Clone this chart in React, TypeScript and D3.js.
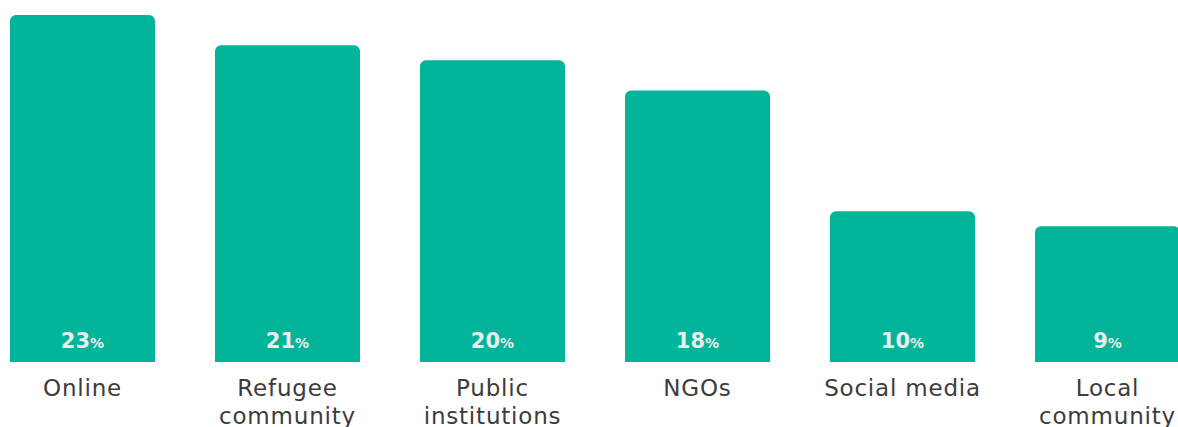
import React from "react";
import * as d3 from "d3";

const categories = ["Online", "Refugee community", "Public institutions", "NGOs", "Social media", "Local community"];
const labelLines = [["Online"], ["Refugee", "community"], ["Public", "institutions"], ["NGOs"], ["Social media"], ["Local", "community"]];
const values = [23, 21, 20, 18, 10, 9];

const W = 1178;
const H = 427;
const FONT = "'DejaVu Sans', sans-serif";

function topRoundedRect(x: number, y: number, w: number, h: number, r: number) {
  const p = d3.path();
  p.moveTo(x, y + h);
  p.lineTo(x, y + r);
  p.arcTo(x, y, x + r, y, r);
  p.lineTo(x + w - r, y);
  p.arcTo(x + w, y, x + w, y + r, r);
  p.lineTo(x + w, y + h);
  p.closePath();
  return p.toString();
}

export default function App() {
  const x = d3.scaleBand<string>().domain(categories).range([10, 1180]).paddingInner(60 / 205).paddingOuter(0);
  const y = d3.scaleLinear().domain([0, 23]).range([362, 15]);
  return (
    <svg width={W} height={H} style={{ position: "absolute", left: 0, top: 0 }}>
      <rect width={W} height={H} fill="#ffffff" />
      {categories.map((c, i) => {
        const bx = x(c)!;
        const bw = x.bandwidth();
        const top = y(values[i]);
        const cx = bx + bw / 2;
        return (
          <g key={c}>
            <path d={topRoundedRect(bx, top, bw, y(0) - top, 6)} fill="#02B49A" />
            <text x={cx} y={348} textAnchor="middle" fill="#ececec" fontFamily={FONT} fontWeight="bold" fontSize={21}>
              {values[i]}
              <tspan fontSize={14} fontWeight="600">%</tspan>
            </text>
            {labelLines[i].map((l, j) => (
              <text key={j} x={cx} y={396 + j * 28} textAnchor="middle" fill="#3c3c3c" fontFamily={FONT} fontSize={23} letterSpacing={0.8}>
                {l}
              </text>
            ))}
          </g>
        );
      })}
    </svg>
  );
}
